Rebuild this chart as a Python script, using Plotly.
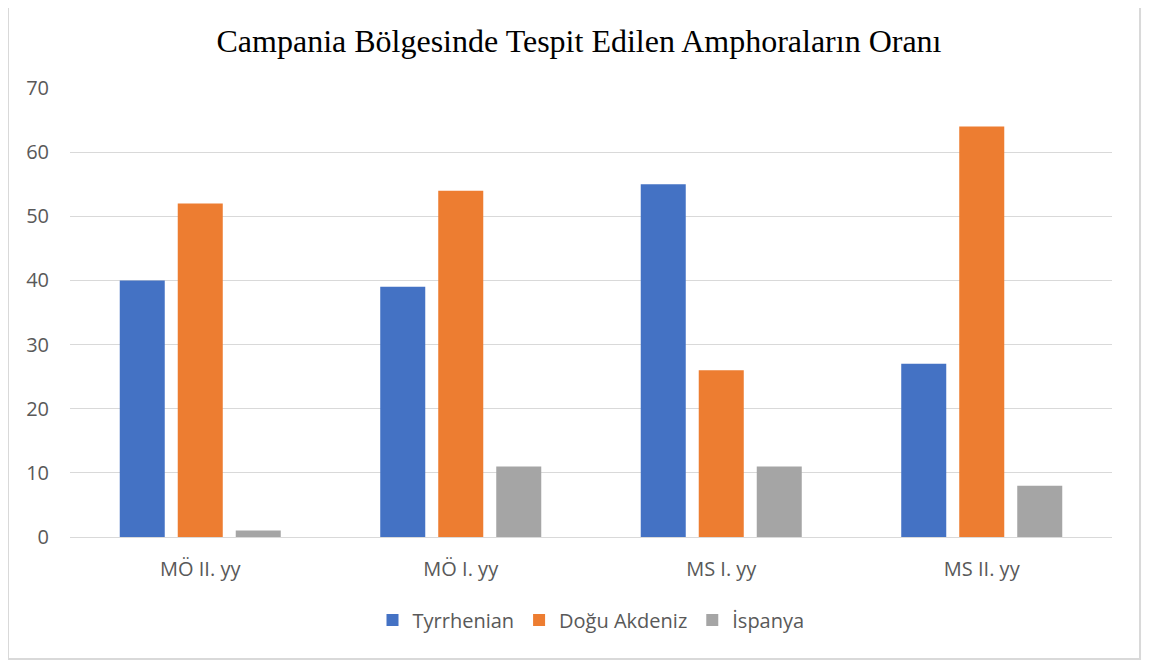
import plotly.graph_objects as go

categories = ["MÖ II. yy", "MÖ I. yy", "MS I. yy", "MS II. yy"]
tyrrhenian = [40, 39, 55, 27]
dogu_akdeniz = [52, 54, 26, 64]
ispanya = [1, 11, 11, 8]

series = [
    ("Tyrrhenian", tyrrhenian, "#4472C4"),
    ("Doğu Akdeniz", dogu_akdeniz, "#ED7D31"),
    ("İspanya", ispanya, "#A5A5A5"),
]

fig = go.Figure()
for name, vals, col in series:
    fig.add_trace(go.Bar(x=categories, y=vals, name=name, marker=dict(color=col, line=dict(width=0))))

# page body has an 8px margin, so the figure is shrunk to compensate
fig.update_layout(
    width=1142, height=653,
    paper_bgcolor="white", plot_bgcolor="white",
    margin=dict(l=62, r=38, t=80, b=124),
    barmode="group", bargap=0.332, bargroupgap=0.224,
    font=dict(family="Open Sans, sans-serif", color="#595959", size=20),
    title=dict(text="Campania Bölgesinde Tespit Edilen Amphoraların Oranı",
               font=dict(family="Liberation Serif, Times New Roman, serif", size=32, color="#000000"),
               x=0.5, xanchor="center", y=0.95, yanchor="middle"),
    legend=dict(orientation="h", x=0.5, xanchor="center", y=-0.185, yanchor="middle",
                font=dict(size=20, color="#595959"), itemwidth=30, traceorder="normal"),
    showlegend=True,
)
fig.update_yaxes(range=[0, 70], dtick=10, showgrid=True, gridcolor="#D9D9D9", gridwidth=1,
                 zeroline=False, showline=False, ticklabelstandoff=20)
fig.update_xaxes(showline=True, linecolor="#D9D9D9", linewidth=1, showgrid=False,
                 ticklabelstandoff=14)

# outer chart border
fig.add_shape(type="rect", xref="paper", yref="paper",
              x0=-0.0595, x1=1.0269, y0=-0.2717, y1=1.25,
              line=dict(color="#D9D9D9", width=2), layer="below")

fig.write_html("out.html")
